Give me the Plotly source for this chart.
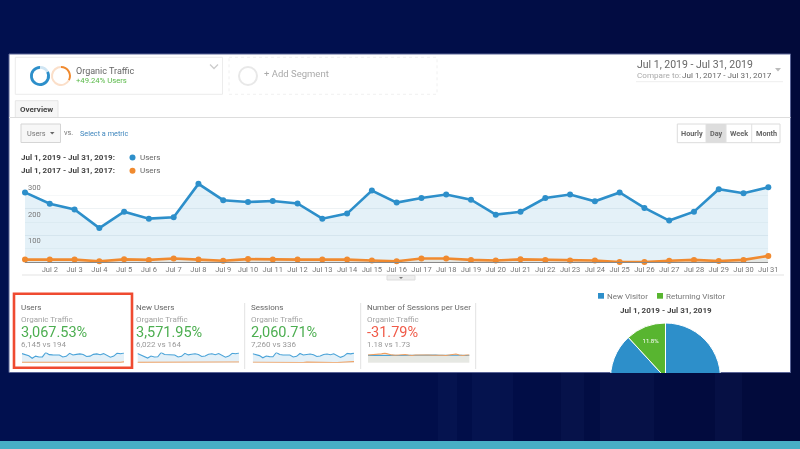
import plotly.graph_objects as go

W, H = 800, 449
FONT = "Roboto"

days = list(range(1, 32))
day_labels = ["..."] + [f"Jul {d}" for d in days[1:]]
y_ticks = [100, 200, 300]

users_2019 = [261, 219, 197, 128, 189, 163, 168, 293, 232, 225, 229, 220, 163, 182, 268, 223,
              240, 253, 234, 178, 189, 240, 253, 228, 261, 203, 156, 189, 273, 258, 280]
users_2017 = [10, 10, 10, 4, 11, 9, 14, 10, 6, 12, 10, 10, 10, 10, 7, 4,
              14, 14, 9, 7, 11, 9, 7, 7, 1, 1, 6, 9, 5, 9, 24]
new_users_2019 = [255, 215, 190, 130, 185, 160, 165, 285, 228, 222, 225, 215, 160, 178, 262, 218,
                  235, 248, 230, 175, 185, 235, 248, 222, 255, 198, 152, 185, 265, 252, 272]
new_users_2017 = [8, 8, 9, 3, 9, 8, 12, 8, 5, 10, 8, 8, 8, 9, 6, 3,
                  12, 12, 8, 6, 9, 8, 6, 6, 1, 1, 5, 8, 4, 8, 20]
sessions_2019 = [300, 262, 240, 165, 228, 205, 200, 345, 275, 262, 270, 258, 195, 215, 312, 262,
                 280, 295, 270, 212, 225, 280, 295, 268, 300, 235, 180, 222, 315, 300, 325]
sessions_2017 = [16, 15, 16, 7, 17, 14, 22, 16, 10, 18, 15, 16, 15, 15, 11, 7,
                 20, 21, 14, 11, 17, 14, 11, 11, 3, 3, 10, 14, 8, 14, 36]
per_user_2019 = [1.15, 1.18, 1.2, 1.16, 1.14, 1.17, 1.12, 1.18, 1.16, 1.14, 1.18, 1.17, 1.2, 1.18, 1.16, 1.18,
                 1.2, 1.18, 1.16, 1.18, 1.2, 1.17, 1.18, 1.16, 1.14, 1.16, 1.2, 1.24, 1.16, 1.14, 1.18]
per_user_2017 = [1.2, 1.22, 1.24, 1.28, 1.38, 1.5, 1.34, 1.22, 1.16, 1.2, 1.24, 1.28, 1.2, 1.14, 1.2, 1.22,
                 1.18, 1.24, 1.2, 1.18, 1.2, 1.22, 1.16, 1.14, 1.2, 1.32, 1.36, 1.2, 1.14, 1.2, 1.2]

visitor_labels = ["New Visitor", "Returning Visitor"]
visitor_share = [88.2, 11.8]
ring_blue = [17, 83]
ring_orange = [33, 67]

tile_names = ["Users", "New Users", "Sessions", "Number of Sessions per User"]
tile_changes = ["3,067.53%", "3,571.95%", "2,060.71%", "-31.79%"]
tile_counts = ["6,145 vs 194", "6,022 vs 164", "7,260 vs 336", "1.18 vs 1.73"]
tile_series = [(users_2019, users_2017), (new_users_2019, new_users_2017),
               (sessions_2019, sessions_2017), (per_user_2019, per_user_2017)]

BLUE = "#2d8fca"
ORANGE = "#f08a2f"
PANEL_TOP, PANEL_BOTTOM, PANEL_LEFT, PANEL_RIGHT = 54, 372.5, 9, 790.5


def px(x):
    return x / W


def py(y):
    return 1 - y / H


shapes = []
annotations = []


def rect(x0, y0, x1, y1, fill="rgba(0,0,0,0)", line=None, lw=1, dash="solid", layer="below"):
    shapes.append(dict(type="rect", xref="paper", yref="paper", x0=px(x0), x1=px(x1), y0=py(y0), y1=py(y1),
                       fillcolor=fill, line=dict(color=line or "rgba(0,0,0,0)", width=lw if line else 0, dash=dash),
                       layer=layer))


def hline(x0, x1, y, color, lw=1):
    shapes.append(dict(type="line", xref="paper", yref="paper", x0=px(x0), x1=px(x1), y0=py(y), y1=py(y),
                       line=dict(color=color, width=lw), layer="below"))


def vline(x, y0, y1, color, lw=1):
    shapes.append(dict(type="line", xref="paper", yref="paper", x0=px(x), x1=px(x), y0=py(y0), y1=py(y1),
                       line=dict(color=color, width=lw), layer="below"))


def circle(cx, cy, r, fill, line=None, lw=0):
    shapes.append(dict(type="circle", xref="paper", yref="paper", x0=px(cx - r), x1=px(cx + r),
                       y0=py(cy + r), y1=py(cy - r), fillcolor=fill,
                       line=dict(color=line or fill, width=lw), layer="below"))


def poly(points, fill=None, line=None, lw=1):
    d = "M " + " L ".join(f"{px(x):.5f} {py(y):.5f}" for x, y in points)
    if fill:
        d += " Z"
    shapes.append(dict(type="path", xref="paper", yref="paper", path=d, fillcolor=fill or "rgba(0,0,0,0)",
                       line=dict(color=line or "rgba(0,0,0,0)", width=lw if line else 0), layer="below"))


def txt(x, y, s, size=8, color="#666666", anchor="left", bold=False):
    annotations.append(dict(xref="paper", yref="paper", x=px(x), y=py(y), text=f"<b>{s}</b>" if bold else s,
                            showarrow=False, xanchor=anchor, yanchor="middle", borderpad=0, borderwidth=0,
                            font=dict(family=FONT, size=size, color=color)))


def bg_color(x):
    stops = [(0, (1, 16, 79)), (300, (1, 16, 80)), (800, (2, 10, 58))]
    for (a, ca), (b, cb) in zip(stops, stops[1:]):
        if x <= b:
            t = (x - a) / (b - a)
            c = [round(p + (q - p) * t) for p, q in zip(ca, cb)]
            return f"rgb({c[0]},{c[1]},{c[2]})"
    return "rgb(2,10,58)"


# page background, banded gradient
step = 20
for x in range(0, W, step):
    rect(x, 0, x + step, H, bg_color(x + step / 2))
# panel
rect(PANEL_LEFT, PANEL_TOP, PANEL_RIGHT, PANEL_BOTTOM, "#ffffff", "#5a6496", 1)

# part of the page that crops the pie at the panel edge
for x in range(0, W, step):
    rect(x, PANEL_BOTTOM + 0.5, x + step, 441, bg_color(x + step / 2), layer="above")
for x0, x1 in [(438, 457), (472, 513), (561, 584), (600, 654), (715, 742)]:
    rect(x0, PANEL_BOTTOM + 0.5, x1, 441, "rgba(45,65,130,0.11)", layer="above")
rect(0, 441, W, H, "#47aec5", layer="above")
hline(PANEL_LEFT, PANEL_RIGHT, PANEL_BOTTOM, "#5a6496")

# segment row
rect(15.3, 57.3, 222.5, 94.3, "#ffffff", "#ececec")
poly([(210, 64.5), (214, 68.5), (218, 64.5)], line="#cccccc", lw=1.3)
txt(76, 70.5, "Organic Traffic", 9, "#666666")
txt(76, 80.3, "+49.24% Users", 7.7, "#58b947")
rect(229, 57.3, 437, 94.3, "#ffffff", "#f0f0f0", 1, "dot")
circle(248, 76, 9, "#ffffff", "#e8e8e8", 2)
txt(264, 73.7, "+ Add Segment", 9.5, "#aaaaaa")

# date range
txt(637, 64.7, "Jul 1, 2019 - Jul 31, 2019", 10.5, "#666666")
txt(637, 75, "Compare to:", 8.1, "#aaaaaa")
txt(682, 75, "Jul 1, 2017 - Jul 31, 2017", 8.1, "#666666")
hline(636, 783, 81.7, "#eeeeee")
poly([(775, 68), (781, 68), (778, 71.5)], fill="#bbbbbb")

# tab row
rect(15.3, 100.7, 58, 117.5, "#f6f6f6", "#e6e6e6")
hline(PANEL_LEFT, PANEL_RIGHT, 117.5, "#dddddd")
txt(36.6, 109.5, "Overview", 8, "#444444", "center", True)

# metric selector and time buttons
rect(21, 124, 60.5, 142.5, "#f7f7f7", "#d5d5d5")
txt(27, 133.5, "Users", 7.3, "#777777")
poly([(50, 132), (54.5, 132), (52.2, 134.5)], fill="#666666")
txt(63.5, 132.5, "vs.", 7.3, "#777777")
txt(80, 133.5, "Select a metric", 7.3, "#3f86bd")
rect(706, 124, 726, 142.7, "#dddddd")
rect(677.3, 124, 780, 142.7, "rgba(0,0,0,0)", "#dcdcdc")
for xs in (706, 726, 751.7):
    vline(xs, 124, 142.7, "#e0e0e0")
for xc, lab in [(691.7, "Hourly"), (716, "Day"), (739, "Week"), (766, "Month")]:
    txt(xc, 133.5, lab, 7.3, "#666666", "center", True)

# main chart legend rows
txt(21, 157.7, "Jul 1, 2019 - Jul 31, 2019:", 8, "#444444", bold=True)
txt(21, 170.7, "Jul 1, 2017 - Jul 31, 2017:", 8, "#444444", bold=True)
circle(132.5, 157.5, 3, BLUE)
circle(132.5, 170.7, 3, ORANGE)
txt(140, 157.7, "Users", 8, "#666666")
txt(140, 170.7, "Users", 8, "#666666")

# chart divider
hline(22, 784, 275, "#e3e3e3")
rect(387, 275.5, 415, 280, "#eeeeee", "#dddddd")
poly([(399, 277), (403, 277), (401, 279)], fill="#777777")

# tiles
tile_x = [21, 136, 251.3, 366.7]
spark_x = [(22, 124), (137.5, 239), (252.7, 354), (368, 469.5)]
for i, xt in enumerate(tile_x):
    txt(xt, 307, tile_names[i], 8, "#666666")
    txt(xt, 319, "Organic Traffic", 8, "#a3a3a3")
    txt(xt, 332.7, tile_changes[i], 14.5, "#f05a48" if tile_changes[i].startswith("-") else "#4cae50")
    txt(xt, 344.5, tile_counts[i], 8, "#999999")
for xs in (244.7, 360.7, 475.7):
    vline(xs, 303, 369, "#e2e2e2")
rect(14, 293.7, 132, 367.7, "rgba(0,0,0,0)", "#ef4a30", 2.6, layer="above")

# pie legend
rect(598, 293, 604, 298.7, BLUE)
txt(607, 296, visitor_labels[0], 8, "#777777")
rect(657, 293, 663, 298.7, "#58b530")
txt(666, 296, visitor_labels[1], 8, "#777777")
txt(665.5, 310.7, "Jul 1, 2019 - Jul 31, 2019", 8, "#444444", "center", True)

fig = go.Figure()

# main chart
fig.add_trace(go.Scatter(x=days, y=users_2019, mode="lines+markers", cliponaxis=False,
                         line=dict(color=BLUE, width=2.6), marker=dict(color=BLUE, size=6),
                         fill="tozeroy", fillcolor="rgba(45,143,202,0.13)", showlegend=False))
fig.add_trace(go.Scatter(x=days, y=users_2017, mode="lines+markers", cliponaxis=False,
                         line=dict(color=ORANGE, width=2.6), marker=dict(color=ORANGE, size=6),
                         fill="tozeroy", fillcolor="rgba(240,138,47,0.10)", showlegend=False))

axes = dict(
    xaxis=dict(domain=[px(25), px(768.3)], range=[1, 31], tickmode="array", tickvals=days, ticktext=day_labels,
               showgrid=False, ticks="", tickfont=dict(family=FONT, size=7.5, color="#777777"), anchor="y",
               showline=True, linecolor="#888888", linewidth=1, zeroline=False, tickangle=0, automargin=False),
    yaxis=dict(domain=[py(262.3), py(182)], range=[0, 300], tickmode="array", tickvals=y_ticks,
               ticklabelposition="inside bottom", ticks="", showgrid=True, gridcolor="#eef2f4", gridwidth=1,
               minor=dict(dtick=50, showgrid=True, gridcolor="#f6f8f9", gridwidth=1),
               tickfont=dict(family=FONT, size=7.5, color="#777777"), anchor="x", zeroline=False,
               showline=False, automargin=False),
)

# sparklines
for i, (a, b) in enumerate(tile_series):
    n = i + 2
    per_user = i == 3
    top = 1.6 if per_user else max(a) * 1.0
    xa = "x" + str(n)
    ya = "y" + str(n)
    fill_b = "#e6e8e3" if per_user else "rgba(240,138,47,0.05)"
    if per_user:
        fig.add_trace(go.Scatter(x=days, y=b, xaxis=xa, yaxis=ya, mode="none", fill="tozeroy",
                                 fillcolor=fill_b, showlegend=False))
    fig.add_trace(go.Scatter(x=days, y=a, xaxis=xa, yaxis=ya, mode="lines", line=dict(color="#4aa3d8", width=1.1),
                             fill="tozeroy", fillcolor="rgba(230,232,227,0.6)" if per_user else "#e3f0f8",
                             showlegend=False))
    fig.add_trace(go.Scatter(x=days, y=b, xaxis=xa, yaxis=ya, mode="lines", line=dict(color="#f0a060", width=1.1),
                             showlegend=False, cliponaxis=False))
    axes[f"xaxis{n}"] = dict(domain=[px(spark_x[i][0]), px(spark_x[i][1])], range=[1, 31], visible=False, anchor=ya)
    axes[f"yaxis{n}"] = dict(domain=[py(362.7), py(352.5)], range=[0, top], visible=False, anchor=xa)

# visitor pie, cropped by the page below the panel
fig.add_trace(go.Pie(labels=visitor_labels, values=visitor_share, sort=False, direction="clockwise", rotation=0,
                     marker=dict(colors=[BLUE, "#58b530"], line=dict(color="#ffffff", width=1)),
                     domain=dict(x=[px(610.5), px(720.5)], y=[py(433), py(323)]),
                     texttemplate="%{percent:.1%}", textposition="inside", insidetextorientation="horizontal",
                     textfont=dict(family=FONT, size=6, color="#ffffff"), showlegend=False))
# segment rings
fig.add_trace(go.Pie(values=ring_blue, sort=False, direction="clockwise", rotation=0, hole=0.72,
                     marker=dict(colors=["#cfe5f3", BLUE]), textinfo="none", showlegend=False,
                     domain=dict(x=[px(30), px(50)], y=[py(86), py(66)])))
fig.add_trace(go.Pie(values=ring_orange, sort=False, direction="clockwise", rotation=0, hole=0.8,
                     marker=dict(colors=[ORANGE, "#fbdfc9"]), textinfo="none", showlegend=False,
                     domain=dict(x=[px(51), px(71)], y=[py(86), py(66)])))

fig.update_layout(width=W, height=H, margin=dict(l=0, r=0, t=0, b=0), autosize=False,
                  paper_bgcolor="#01104f", plot_bgcolor="rgba(0,0,0,0)", showlegend=False,
                  font=dict(family=FONT), shapes=shapes, annotations=annotations, hovermode=False, **axes)

fig.write_html("out.html", config=dict(displayModeBar=False),
               post_script="document.body.style.margin='0';document.body.style.overflow='hidden';"
                           "document.querySelector('.plot-container').style.filter='blur(0.45px)';")
